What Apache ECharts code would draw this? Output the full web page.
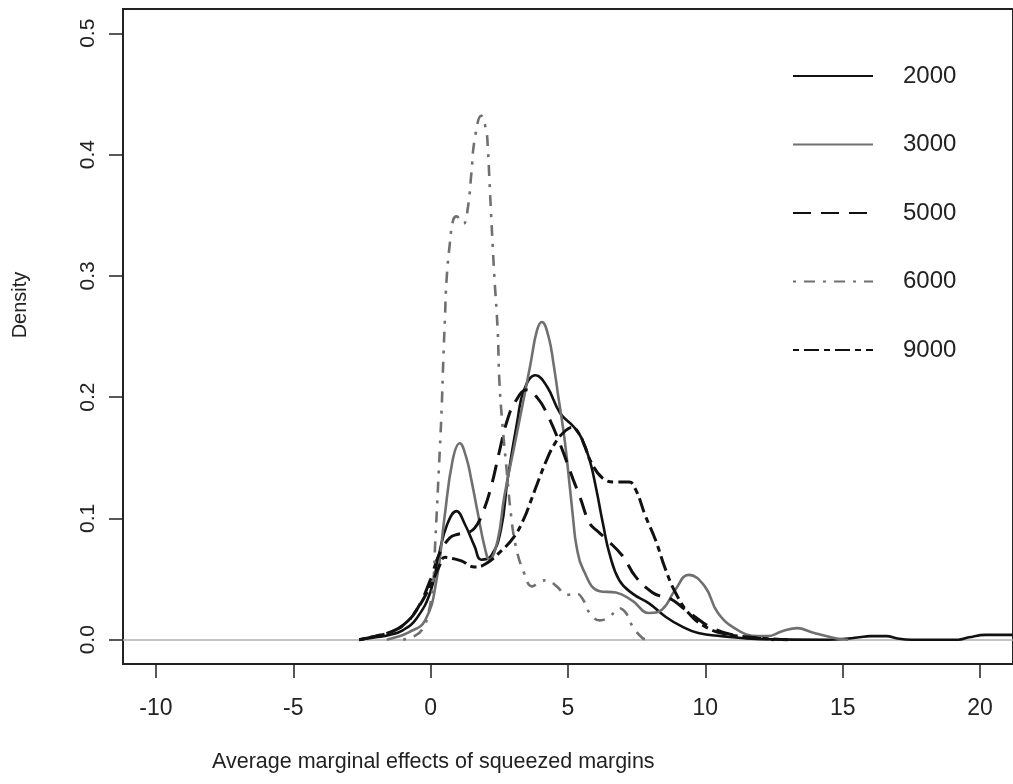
<!DOCTYPE html>
<html>
<head>
<meta charset="utf-8">
<script src="https://cdn.jsdelivr.net/npm/echarts@6/dist/echarts.min.js"></script>
<style>html,body{margin:0;padding:0;background:#fff;}#c{width:1013px;height:784px;}</style>
</head>
<body>
<div id="c"></div>
<script>
const seriesNames = ['2000', '3000', '5000', '6000', '9000'];
const xTicks = [-10, -5, 0, 5, 10, 15, 20];
const yTicks = [0, 0.1, 0.2, 0.3, 0.4, 0.5];

const d2000 = [[-2.6,0],[-2,0.002],[-1.5,0.004],[-1,0.008],[-0.5,0.018],[0,0.04],[0.3,0.07],[0.6,0.095],[0.94,0.106],[1.25,0.095],[1.6,0.077],[1.84,0.066],[2.2,0.069],[2.56,0.091],[2.8,0.132],[3.16,0.181],[3.4,0.206],[3.82,0.218],[4.23,0.209],[4.71,0.187],[5.19,0.176],[5.5,0.166],[5.79,0.148],[6.03,0.124],[6.27,0.096],[6.51,0.071],[6.87,0.049],[7.35,0.038],[7.95,0.030],[8.55,0.019],[9.14,0.011],[9.74,0.0055],[10.58,0.003],[12,0.0005],[14.5,0],[15.2,0.001],[15.6,0.002],[16.0,0.003],[16.6,0.003],[17,0.001],[17.5,0],[19.2,0],[19.6,0.002],[20.2,0.004],[21.2,0.004]];
const d3000 = [[-1.6,0],[-1.28,0.002],[-0.8,0.006],[-0.2,0.016],[0.22,0.05],[0.5,0.1],[0.8,0.148],[1.06,0.162],[1.3,0.15],[1.48,0.132],[1.72,0.104],[1.96,0.077],[2.14,0.066],[2.44,0.082],[2.68,0.118],[3.04,0.159],[3.4,0.2],[3.64,0.228],[3.87,0.255],[4.05,0.262],[4.29,0.25],[4.47,0.228],[4.65,0.2],[4.83,0.173],[4.95,0.151],[5.19,0.099],[5.31,0.077],[5.55,0.058],[6.15,0.040],[6.74,0.039],[7.35,0.032],[7.95,0.022],[8.43,0.025],[8.9,0.041],[9.39,0.0535],[9.98,0.044],[10.46,0.022],[11.18,0.008],[11.9,0.003],[12.26,0.003],[12.8,0.007],[13.34,0.0096],[13.9,0.006],[14.78,0.001],[15.2,0]];
const d5000 = [[-2.6,0],[-2,0.003],[-1.5,0.006],[-1,0.012],[-0.5,0.025],[0,0.05],[0.3,0.07],[0.7,0.084],[1.0,0.087],[1.3,0.088],[1.6,0.092],[1.9,0.105],[2.2,0.126],[2.5,0.155],[2.79,0.181],[3.1,0.197],[3.5,0.206],[3.9,0.199],[4.22,0.187],[4.7,0.162],[5.19,0.132],[5.43,0.118],[5.79,0.096],[6.1,0.089],[6.39,0.083],[6.99,0.069],[7.46,0.052],[8.07,0.039],[8.5,0.035],[8.79,0.033],[9.2,0.026],[9.62,0.019],[10.22,0.01],[11.18,0.003],[12,0.001],[12.5,0]];
const d6000 = [[-1,0],[-0.6,0.003],[-0.32,0.008],[-0.08,0.022],[0.1,0.049],[0.16,0.077],[0.22,0.104],[0.28,0.132],[0.34,0.16],[0.4,0.19],[0.46,0.23],[0.52,0.265],[0.58,0.297],[0.7,0.327],[0.82,0.346],[0.94,0.349],[1.1,0.345],[1.2,0.343],[1.36,0.357],[1.48,0.384],[1.6,0.412],[1.84,0.432],[2.02,0.42],[2.08,0.406],[2.14,0.379],[2.2,0.351],[2.26,0.324],[2.32,0.299],[2.44,0.255],[2.5,0.214],[2.6,0.181],[2.8,0.132],[2.92,0.104],[3.1,0.077],[3.4,0.055],[3.69,0.044],[3.99,0.048],[4.23,0.049],[4.59,0.044],[4.95,0.037],[5.31,0.038],[5.55,0.033],[5.79,0.022],[6.15,0.016],[6.51,0.019],[6.87,0.026],[7.11,0.022],[7.35,0.011],[7.71,0.0015],[7.9,0]];
const d9000 = [[-2.6,0],[-2,0.003],[-1.5,0.006],[-1,0.012],[-0.5,0.025],[0,0.045],[0.3,0.06],[0.52,0.068],[0.8,0.067],[1.12,0.065],[1.6,0.06],[1.96,0.062],[2.56,0.073],[3.04,0.085],[3.4,0.1],[3.64,0.114],[3.87,0.128],[4.2,0.147],[4.5,0.161],[4.8,0.17],[5.15,0.175],[5.4,0.170],[5.6,0.16],[5.85,0.146],[6.27,0.133],[6.75,0.130],[7.23,0.130],[7.46,0.124],[7.82,0.102],[8.19,0.082],[8.55,0.058],[8.91,0.039],[9.39,0.022],[9.98,0.011],[10.7,0.005],[11.9,0.0015],[13,0]];

const dataList = [d2000, d3000, d5000, d6000, d9000];
const colors = ['#111111', '#707070', '#111111', '#707070', '#111111'];
const widths = [2.6, 2.6, 3, 2.6, 3];
const dashes = ['solid', 'solid', [18, 10], [3, 8, 11, 8], [6, 5, 15, 5]];

const chart = echarts.init(document.getElementById('c'), null, {renderer: 'canvas'});
const FONT = 'Liberation Sans, Arial, sans-serif';

const series = seriesNames.map((name, i) => ({
  name: name,
  type: 'line',
  data: dataList[i],
  showSymbol: false,
  symbol: 'none',
  smooth: 0.45,
  lineStyle: {color: colors[i], width: widths[i], type: dashes[i]},
  itemStyle: {color: colors[i]},
  z: 3 + i,
  animation: false
}));
series[0].markLine = {
  silent: true,
  symbol: 'none',
  label: {show: false},
  lineStyle: {color: '#b0b0b0', width: 1.5, type: 'solid'},
  data: [{yAxis: 0}],
  z: 1
};

chart.setOption({
  animation: false,
  backgroundColor: '#ffffff',
  grid: {left: 123, top: 9, width: 902, height: 655, show: true, borderColor: '#222', borderWidth: 2, backgroundColor: 'transparent'},
  xAxis: {
    type: 'value', min: -11.2, max: 21.2,
    axisLine: {show: true, onZero: false, lineStyle: {color: '#222', width: 2}},
    axisTick: {show: true, length: 14, inside: false, lineStyle: {color: '#222', width: 1.5}, customValues: xTicks},
    axisLabel: {show: true, customValues: xTicks, fontSize: 23, color: '#222', fontFamily: FONT, margin: 33},
    splitLine: {show: false}
  },
  yAxis: {
    type: 'value', min: -0.02, max: 0.52,
    axisLine: {show: true, onZero: false, lineStyle: {color: '#222', width: 2}},
    axisTick: {show: true, length: 14, inside: false, lineStyle: {color: '#222', width: 1.5}, customValues: yTicks},
    axisLabel: {show: true, customValues: yTicks, rotate: 90, fontSize: 21, color: '#222', fontFamily: FONT, margin: 24,
      formatter: v => v.toFixed(1)},
    splitLine: {show: false}
  },
  legend: {
    data: seriesNames,
    orient: 'vertical',
    left: 787, top: 59,
    itemWidth: 80, itemHeight: 22,
    itemGap: 44.5,
    itemStyle: {opacity: 0},
    textStyle: {fontSize: 24, color: '#222', fontFamily: FONT, padding: [0, 0, 0, 25]},
    selectedMode: false
  },
  graphic: [
    {type: 'text', left: 212, top: 751, style: {text: 'Average marginal effects of squeezed margins', fontSize: 21.5, fill: '#222', fontFamily: FONT}},
    {type: 'text', x: 20, y: 305, rotation: Math.PI / 2, style: {text: 'Density', fontSize: 20, fill: '#222', fontFamily: FONT, align: 'center', verticalAlign: 'middle'}}
  ],
  series: series
});
</script>
</body>
</html>
